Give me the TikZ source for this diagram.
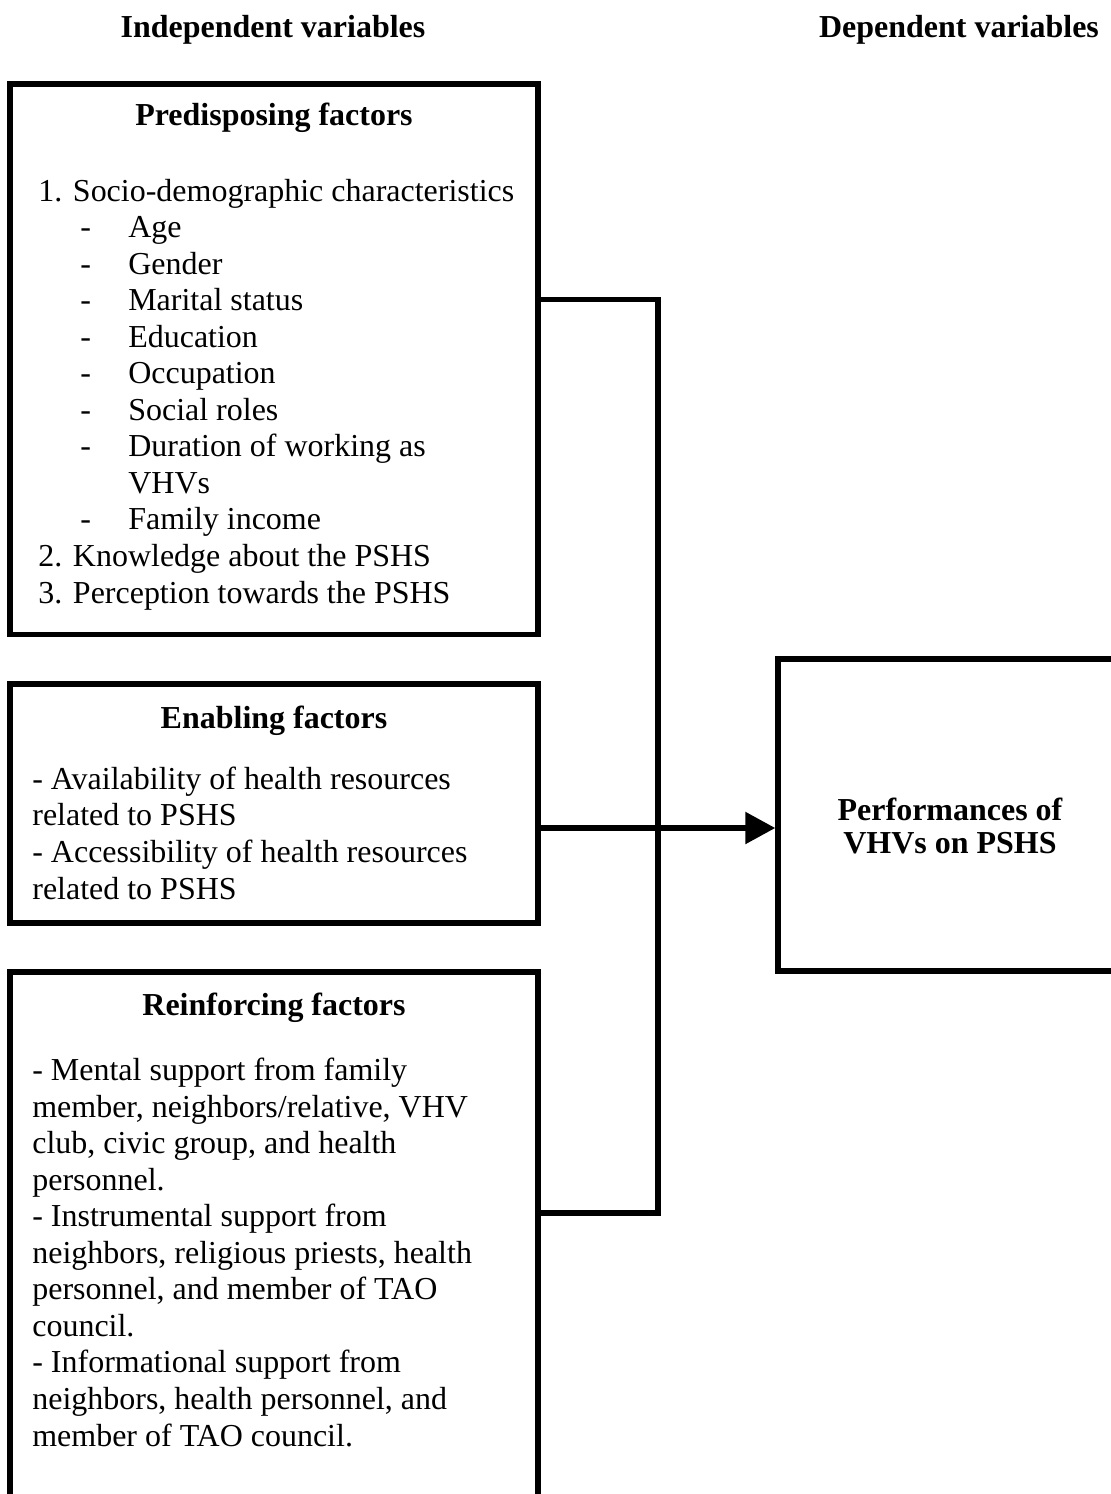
\documentclass[tikz,border=0pt]{standalone}
\usepackage{fontspec}
\setmainfont{Liberation Serif}
\usetikzlibrary{positioning, arrows.meta}

% list item with a dash, as in the framework box
\newcommand{\itm}[1]{\hspace*{0.84cm}\makebox[0.96cm][l]{-}#1}

\begin{document}
\begin{tikzpicture}[x=0.02cm, y=-0.02cm,
          box/.style={rectangle, draw=black, line width=0.11cm, fill=none},
          hd/.style={font=\fontsize{18.2}{20.8}\selectfont\bfseries, inner sep=0pt, anchor=base},
          lst/.style={font=\fontsize{18.2}{20.8}\selectfont, align=left, inner sep=0pt, anchor=base west},
          link/.style={line width=0.11cm, line cap=rect},
          arr/.style={-{Triangle[length=0.6cm, width=0.62cm]}, line width=0.11cm}
        ]
        \useasboundingbox (0,0) rectangle (1111,1494);

        % column titles
        \node[hd] (indep) at (273,37) {Independent variables};
        \node[hd] (dep) at (959,37) {Dependent variables};

        % factor boxes
        \node[box, minimum width=10.56cm, minimum height=11.01cm] (pred) at (274,359.25) {};
        \node[box, minimum width=10.56cm, minimum height=4.78cm] (enab) at (274,803.5) {};
        \node[box, minimum width=10.56cm, minimum height=12.56cm] (reinf) at (274,1286) {};
        \node[box, minimum width=8.44cm, minimum height=6.24cm] (perf) at (989,815) {};

        % lists are anchored at the baseline of their last line
        \node[hd] (predhd) at (274,125) {Predisposing factors};
        \node[lst] (predlist) at (38,603)
              {1. Socio-demographic characteristics\\
               \itm{Age}\\
               \itm{Gender}\\
               \itm{Marital status}\\
               \itm{Education}\\
               \itm{Occupation}\\
               \itm{Social roles}\\
               \itm{Duration of working as}\\
               \hspace*{1.8cm}VHVs\\
               \itm{Family income}\\
               2. Knowledge about the PSHS\\
               3. Perception towards the PSHS};

        \node[hd] (enabhd) at (274,728) {Enabling factors};
        \node[lst] (enablist) at (32,899)
              {- Availability of health resources\\
               related to PSHS\\
               - Accessibility of health resources\\
               related to PSHS};

        \node[hd] (reinfhd) at (274,1015) {Reinforcing factors};
        \node[lst] (reinflist) at (32,1446)
              {- Mental support from family\\
               member, neighbors/relative, VHV\\
               club, civic group, and health\\
               personnel.\\
               - Instrumental support from\\
               neighbors, religious priests, health\\
               personnel, and member of TAO\\
               council.\\
               - Informational support from\\
               neighbors, health personnel, and\\
               member of TAO council.};

        \node[hd, font=\fontsize{18.2}{18.7}\selectfont\bfseries, align=center, anchor=center]
              (perfhd) at (950,826) {Performances of\\VHVs on PSHS};

        % connectors
        \coordinate (bustop) at (658,299.5);
        \coordinate (busbot) at (658,1213);
        \coordinate (arrrow) at (0,828);
        \draw[link] (pred.east |- bustop) -- (bustop) -- (busbot) -- (reinf.east |- busbot);
        \draw[arr] (enab.east |- arrrow) -- (perf.west |- arrrow);
      \end{tikzpicture}
\end{document}
